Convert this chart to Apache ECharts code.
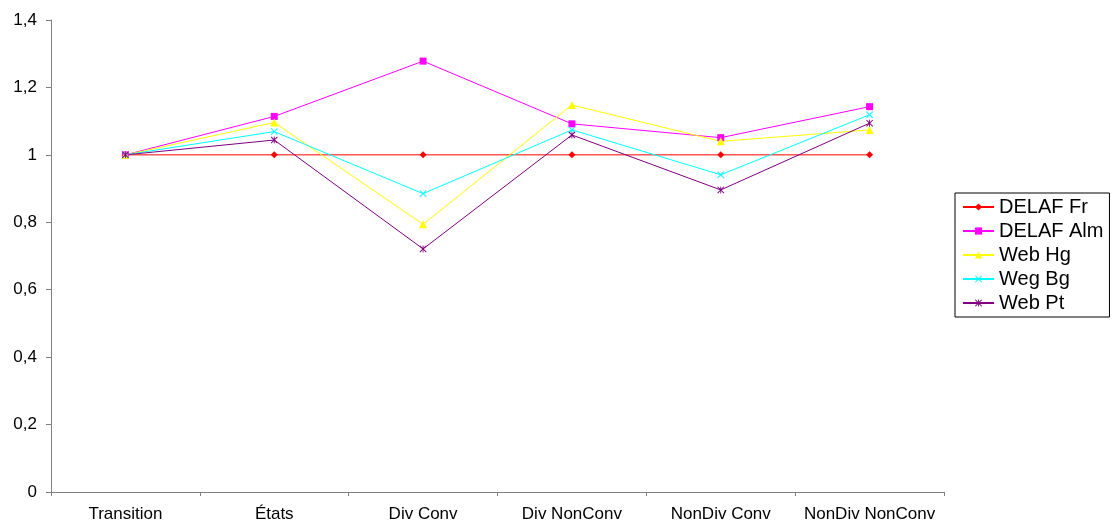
<!DOCTYPE html>
<html>
<head>
<meta charset="utf-8">
<script src="https://cdn.jsdelivr.net/npm/echarts@6/dist/echarts.min.js"></script>
<style>html,body{margin:0;padding:0;background:#fff;overflow:hidden}#c{width:1113px;height:525px}</style>
</head>
<body>
<div id="c"></div>
<script>
const categories = ['Transition', 'États', 'Div Conv', 'Div NonConv', 'NonDiv Conv', 'NonDiv NonConv'];
const delafFr  = [1, 1, 1, 1, 1, 1];
const delafAlm = [1, 1.114, 1.278, 1.092, 1.051, 1.143];
const webHg    = [1, 1.096, 0.794, 1.148, 1.040, 1.074];
const wegBg    = [1, 1.069, 0.885, 1.074, 0.941, 1.119];
const webPt    = [1, 1.044, 0.721, 1.059, 0.896, 1.094];
const seriesNames = ['DELAF Fr', 'DELAF Alm', 'Web Hg', 'Weg Bg', 'Web Pt'];

const xMark = 'path://M0,1 L1,0 L5,4 L9,0 L10,1 L6,5 L10,9 L9,10 L5,6 L1,10 L0,9 L4,5 Z';
const star = 'path://M0,1 L1,0 L5,4 L9,0 L10,1 L6,5 L10,9 L9,10 L5,6 L1,10 L0,9 L4,5 Z M4.4,0 L5.6,0 L5.6,10 L4.4,10 Z';

function mk(name, data, color, symbol, size) {
  return {
    name: name, type: 'line', data: data,
    symbol: symbol, symbolSize: size, showSymbol: true,
    lineStyle: { color: color, width: 1 },
    itemStyle: { color: color },
    emphasis: { disabled: true },
    animation: false
  };
}

const chart = echarts.init(document.getElementById('c'), null, { renderer: 'canvas' });
chart.setOption({
  backgroundColor: '#ffffff',
  animation: false,
  textStyle: { fontFamily: 'Liberation Sans, Arial, sans-serif' },
  grid: { left: 51, right: 169, top: 20, bottom: 33 },
  legend: {
    orient: 'vertical',
    left: 955, top: 193,
    padding: [4, 6, 4, 7],
    borderColor: '#000000', borderWidth: 1,
    itemWidth: 31, itemHeight: 9, itemGap: 4,
    textStyle: { fontSize: 20, color: '#000', fontFamily: 'Liberation Sans, Arial, sans-serif' },
    data: seriesNames
  },
  xAxis: {
    type: 'category', data: categories, boundaryGap: true,
    axisLine: { lineStyle: { color: '#808080' } },
    axisTick: { show: true, length: 4, lineStyle: { color: '#808080' } },
    axisLabel: { color: '#000', fontSize: 17, margin: 14, interval: 0 },
    splitLine: { show: false }
  },
  yAxis: {
    type: 'value', min: 0, max: 1.4, interval: 0.2,
    axisLine: { show: true, lineStyle: { color: '#808080' } },
    axisTick: { show: true, length: 5, lineStyle: { color: '#808080' } },
    axisLabel: { color: '#000', fontSize: 17, margin: 14,
      formatter: v => String(Math.round(v * 10) / 10).replace('.', ',') },
    splitLine: { show: false }
  },
  series: [
    mk(seriesNames[0], delafFr, '#ff0000', 'diamond', 7),
    mk(seriesNames[1], delafAlm, '#ff00ff', 'rect', 7),
    mk(seriesNames[2], webHg, '#ffff00', 'triangle', 8),
    mk(seriesNames[3], wegBg, '#00ffff', xMark, 7),
    mk(seriesNames[4], webPt, '#800080', star, 7)
  ]
});
</script>
</body>
</html>
